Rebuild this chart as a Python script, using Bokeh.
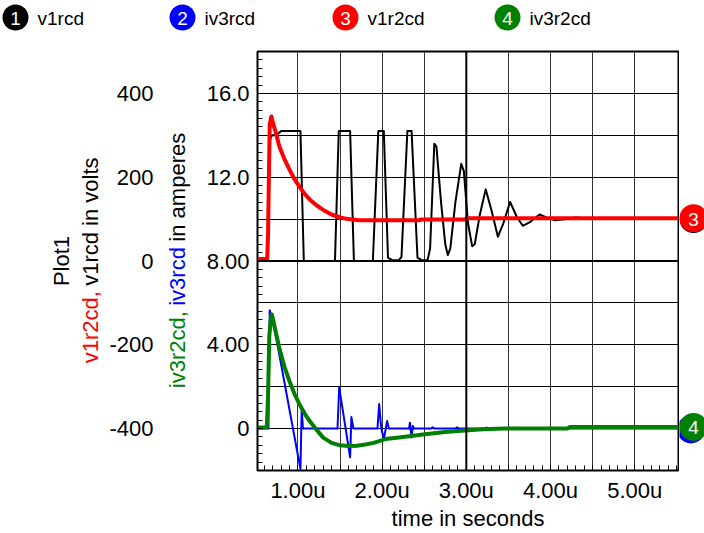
import math
from bokeh.plotting import figure
from bokeh.models import Range1d, FixedTicker, Span
from bokeh.layouts import column, row
from bokeh.core.properties import value
from bokeh.embed import file_html
from bokeh.resources import INLINE

# ---------------- data (time in microseconds) ----------------
series_names = ["v1rcd", "iv3rcd", "v1r2cd", "iv3r2cd"]
series_colors = ["#000000", "#0000ff", "#ff0000", "#008000"]

t_v1rcd = [0.52, 0.64, 0.655, 0.67, 0.69, 0.74, 0.80, 1.03, 1.07, 1.44, 1.485, 1.62, 1.665,
           1.89, 1.955, 2.02, 2.07, 2.12, 2.20, 2.23, 2.30, 2.35, 2.42, 2.47, 2.54, 2.57,
           2.62, 2.645, 2.70, 2.75, 2.78, 2.81, 2.87, 2.94, 2.97, 3.02, 3.07, 3.10, 3.16,
           3.23, 3.30, 3.375, 3.44, 3.52, 3.60, 3.67, 3.75, 3.87, 3.95, 4.05, 4.20, 4.30,
           4.45, 5.52]
v1rcd = [0, 0, 150, 290, 300, 300, 310, 310, 0, 0, 310, 310, 0,
         0, 310, 310, 8, 2, 2, 10, 310, 310, 8, 2, 2, 30,
         280, 273, 140, 40, 14, 30, 140, 232, 215, 90, 35, 40, 110,
         171, 120, 58, 90, 141, 105, 84, 92, 111, 104, 97, 100, 104,
         100, 100]

t_iv3rcd = [0.52, 0.65, 0.665, 0.69, 0.73, 1.03, 1.045, 1.06, 1.47, 1.49, 1.52, 1.62, 1.635,
            1.66, 1.945, 1.965, 1.99, 2.02, 2.06, 2.08, 2.32, 2.33, 2.35, 2.365, 2.38,
            2.58, 2.60, 2.62, 2.87, 2.89, 2.91, 3.22, 3.24, 3.26, 5.52]
iv3rcd = [0, 0, 5.65, 5.3, 4.6, -1.93, 0.92, 0, 0, 1.95, 1.2, -1.37, 0.55,
          0, 0, 1.18, 0, -0.5, 0.36, 0, 0, 0.28, -0.43, 0.13, 0,
          0, 0.06, 0, 0, 0.06, 0, 0, 0.05, 0, 0]

t_v1r2cd = [0.52, 0.635, 0.645, 0.655, 0.665, 0.685, 0.70, 0.74, 0.78, 0.84, 0.90, 0.96,
            1.02, 1.08, 1.14, 1.22, 1.30, 1.40, 1.50, 1.60, 1.72, 2.0, 2.44, 2.46, 2.98,
            3.0, 5.52]
v1r2cd = [5, 5, 60, 200, 325, 345, 332, 305, 273, 243, 218, 195,
          177, 160, 147, 133, 122, 111, 104, 100, 97, 97, 97, 99, 99,
          102, 102]

t_iv3r2cd = [0.52, 0.63, 0.645, 0.66, 0.675, 0.69, 0.705, 0.74, 0.78, 0.84, 0.90, 0.96,
             1.02, 1.08, 1.14, 1.22, 1.30, 1.40, 1.50, 1.60, 1.70, 1.80, 1.90, 2.04,
             2.20, 2.51, 2.75, 2.98, 3.20, 3.45, 4.20, 4.23, 5.52]
iv3r2cd = [0.05, 0.05, 1.5, 4.4, 5.1, 5.45, 5.2, 4.55, 3.84, 2.95, 2.26, 1.65,
           1.15, 0.72, 0.36, -0.05, -0.43, -0.68, -0.8, -0.83, -0.82, -0.76, -0.68, -0.5,
           -0.42, -0.27, -0.16, -0.09, -0.03, 0.0, 0.0, 0.08, 0.08]

x_ticks = [1, 2, 3, 4, 5]
x_tick_labels = ["1.00u", "2.00u", "3.00u", "4.00u", "5.00u"]
amp_ticks = [0, 4, 8, 12, 16]
amp_tick_labels = ["0", "4.00", "8.00", "12.0", "16.0"]
volt_ticks = [-400, -200, 0, 200, 400]
volt_tick_labels = ["-400", "-200", "0", "200", "400"]

x_title = "time in seconds"
volt_title_line1 = "Plot1"
volt_title_parts = [("v1r2cd,", 2), ("v1rcd in volts", 0)]
amp_title_parts = [("iv3r2cd,", 3), ("iv3rcd", 1), ("in amperes", 0)]

# ---------------- layout constants ----------------
FONT = "Liberation Sans"
FS = 22
X0, X1 = 0.52, 5.52
A0, A1 = -2.0, 18.0
V0, V1 = -500.0, 500.0
TOP_H = 50                 # legend strip
ROW_H = 533 - TOP_H
BT, BB = 1, 59             # borders of the row figures
FRAME_T = TOP_H + BT       # 51
FRAME_B = 533 - BB         # 474
CY = (FRAME_T + FRAME_B) / 2.0

W_A, W_B, W_MAIN, W_D = 105, 98, 476, 25

CW = {' ': 278, ',': 278, '1': 556, '2': 556, '3': 556, 'a': 556, 'c': 500, 'd': 556,
      'e': 556, 'i': 222, 'l': 222, 'm': 833, 'n': 556, 'o': 556, 'p': 556, 'r': 333,
      's': 500, 't': 278, 'v': 500, 'P': 667}


def tw(s):
    return sum(CW.get(c, 556) for c in s) / 1000.0 * FS


def base_fig(width, height, xr, yr, **kw):
    opts = dict(width=width, height=height, x_range=xr, y_range=yr,
                output_backend="svg", toolbar_location=None,
                x_axis_location=None, y_axis_location=None,
                min_border_left=0, min_border_right=0, min_border_top=BT,
                min_border_bottom=BB, background_fill_color="white",
                border_fill_color="white")
    opts.update(kw)
    f = figure(**opts)
    f.outline_line_color = None
    f.grid.visible = False
    return f


def rotated_parts(f, px_x, center_py, parts, **kw):
    total = sum(tw(s) for s, _ in parts) + tw(" ") * (len(parts) - 1)
    cur = center_py + total / 2.0
    xs, ys, ts, cs = [], [], [], []
    for s, ci in parts:
        xs.append(px_x); ys.append(cur); ts.append(s); cs.append(series_colors[ci])
        cur -= tw(s) + tw(" ")
    f.text(x=xs, y=ys, text=ts, text_color=cs, angle=math.pi / 2,
           text_font=value(FONT), text_font_size=value(f"{FS}px"),
           text_align="left", text_baseline="middle", **kw)


def badge(f, x, y, num, color, size):
    f.scatter(x=[x], y=[y], size=size, color=color, line_color=None)
    f.text(x=[x], y=[y], text=[str(num)], text_color="white",
           text_font=value(FONT), text_font_size=value("19px"),
           text_align="center", text_baseline="middle", y_offset=1)


# ---------------- legend strip ----------------
leg = base_fig(704, TOP_H, Range1d(0, 704), Range1d(TOP_H, 0),
               min_border_top=0, min_border_bottom=0)
legend_x = [15, 182, 345, 507]
LEG_Y = 17
for i in range(4):
    badge(leg, legend_x[i], LEG_Y, i + 1, series_colors[i], 26)
leg.text(x=[x + 22 for x in legend_x], y=[LEG_Y + 1] * 4, text=series_names,
         text_color="black", text_font=value(FONT), text_font_size=value("19px"),
         text_align="left", text_baseline="middle")

# ---------------- A: volts title ----------------
fa = base_fig(W_A, ROW_H, Range1d(0, W_A), Range1d(FRAME_B, FRAME_T))
fa.text(x=[61], y=[CY], text=[volt_title_line1], angle=math.pi / 2, text_color="black",
        text_font=value(FONT), text_font_size=value(f"{FS}px"),
        text_align="center", text_baseline="middle")
rotated_parts(fa, 90, CY, volt_title_parts)

# ---------------- B: volts axis + amps title ----------------
B_LEFT = 51
fb = base_fig(W_B, ROW_H, Range1d(W_A + B_LEFT, W_A + W_B), Range1d(V0, V1),
              y_axis_location="left", min_border_left=B_LEFT)
fb.grid.visible = False
fb.extra_y_ranges = {"px": Range1d(FRAME_B, FRAME_T)}
va = fb.yaxis[0]
va.ticker = FixedTicker(ticks=volt_ticks)
va.major_label_overrides = {t: s for t, s in zip(volt_ticks, volt_tick_labels)}
va.major_label_text_font = FONT
va.major_label_text_font_size = f"{FS}px"
va.major_label_text_color = "black"
va.major_label_standoff = 3
va.axis_line_color = None
va.major_tick_line_color = None
va.minor_tick_line_color = None
va.major_tick_in = 0
va.major_tick_out = 0
va.minor_tick_in = 0
va.minor_tick_out = 0
rotated_parts(fb, 177, CY, amp_title_parts, y_range_name="px")

# ---------------- main plot ----------------
p = figure(width=W_MAIN, height=ROW_H, x_range=Range1d(X0, X1), y_range=Range1d(A0, A1),
           output_backend="svg", toolbar_location=None,
           min_border_left=52, min_border_right=1, min_border_top=BT, min_border_bottom=BB,
           background_fill_color="white", border_fill_color="white")
p.extra_y_ranges = {"volts": Range1d(V0, V1)}
p.outline_line_color = "black"
p.outline_line_width = 2

xa = p.xaxis[0]
xa.ticker = FixedTicker(ticks=x_ticks, minor_ticks=[round(0.6 + 0.1 * k, 2) for k in range(50)])
xa.major_label_overrides = {t: s for t, s in zip(x_ticks, x_tick_labels)}
xa.axis_label = x_title
xa.axis_label_text_font = FONT
xa.axis_label_text_font_size = f"{FS}px"
xa.axis_label_text_font_style = "normal"
xa.axis_label_text_color = "black"
xa.axis_label_standoff = 0
xa.major_label_text_font = FONT
xa.major_label_text_font_size = f"{FS}px"
xa.major_label_text_color = "black"
xa.major_label_standoff = 7
xa.axis_line_color = None
xa.major_tick_in = 5
xa.major_tick_out = 0
xa.minor_tick_in = 5
xa.minor_tick_out = 0
xa.major_tick_line_color = "black"
xa.minor_tick_line_color = "black"

ya = p.yaxis[0]
ya.ticker = FixedTicker(ticks=amp_ticks, minor_ticks=[round(-2 + 0.4 * k, 2) for k in range(51)])
ya.major_label_overrides = {t: s for t, s in zip(amp_ticks, amp_tick_labels)}
ya.major_label_text_font = FONT
ya.major_label_text_font_size = f"{FS}px"
ya.major_label_text_color = "black"
ya.major_label_standoff = 8
ya.axis_line_color = None
ya.major_tick_in = 5
ya.major_tick_out = 0
ya.minor_tick_in = 5
ya.minor_tick_out = 0
ya.major_tick_line_color = "black"
ya.minor_tick_line_color = "black"

p.xgrid.ticker = FixedTicker(ticks=[1.0, 1.5, 2.0, 2.5, 3.0, 3.5, 4.0, 4.5, 5.0])
p.xgrid.grid_line_color = "#333333"
p.xgrid.grid_line_width = 1
p.ygrid.ticker = FixedTicker(ticks=[0, 2, 4, 6, 8, 10, 12, 14, 16])
p.ygrid.grid_line_color = "black"
p.ygrid.grid_line_width = 1
p.add_layout(Span(location=8, dimension="width", line_color="black", line_width=2))
p.add_layout(Span(location=3.0, dimension="height", line_color="black", line_width=2))

p.line(t_v1rcd, v1rcd, y_range_name="volts", line_color=series_colors[0], line_width=2, line_join="round")
p.line(t_iv3rcd, iv3rcd, line_color=series_colors[1], line_width=2, line_join="round")
p.line(t_v1r2cd, v1r2cd, y_range_name="volts", line_color=series_colors[2], line_width=4, line_join="round")
p.line(t_iv3r2cd, iv3r2cd, line_color=series_colors[3], line_width=4, line_join="round")

# ---------------- D: end-of-trace badges ----------------
fd = base_fig(W_D, ROW_H, Range1d(0, W_D), Range1d(A0, A1))


def volt_to_amp(v):
    return A0 + (v - V0) / (V1 - V0) * (A1 - A0)


end_vals = [volt_to_amp(v1rcd[-1]), iv3rcd[-1], volt_to_amp(v1r2cd[-1]), iv3r2cd[-1]]
badge(fd, 14, end_vals[0], 1, series_colors[0], 28)
badge(fd, 11.5, end_vals[1] - 0.04, 2, series_colors[1], 28)
badge(fd, 14, end_vals[2], 3, series_colors[2], 28)
badge(fd, 14, end_vals[3], 4, series_colors[3], 28)

layout = column(leg, row(fa, fb, p, fd, spacing=0), spacing=0)
open("out.html", "w").write(file_html(layout, INLINE))
